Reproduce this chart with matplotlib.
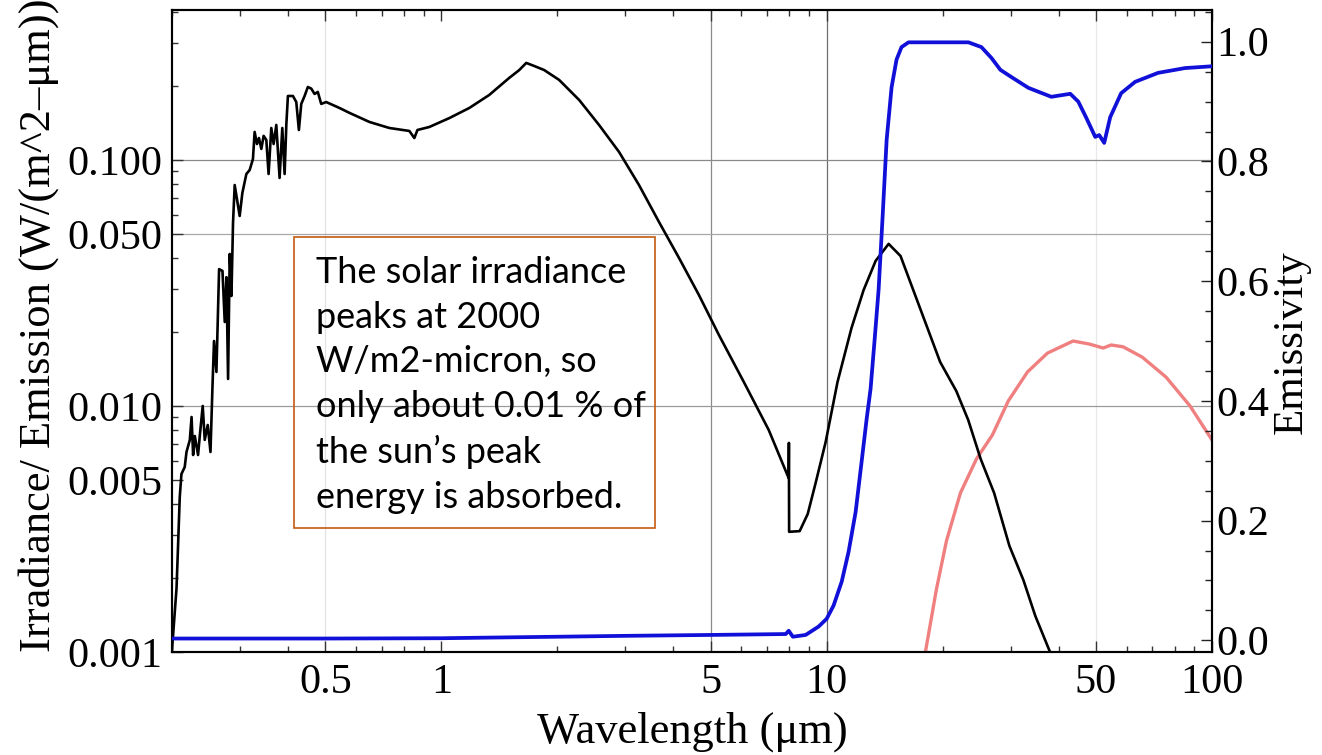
import matplotlib
matplotlib.use("Agg")
import matplotlib.pyplot as plt
from matplotlib.ticker import FixedLocator, FixedFormatter, LogLocator, NullFormatter, MultipleLocator
from matplotlib.patches import Rectangle

# ---------------- data ----------------
# Solar irradiance (scaled), wavelength in micrometres
solar_wl = [0.200, 0.2055, 0.207, 0.2095, 0.2116, 0.2158, 0.2181, 0.2225, 0.2248, 0.2269,
            0.2292, 0.2337, 0.2361, 0.2403, 0.2432, 0.2476, 0.2517, 0.2547, 0.2571, 0.2608,
            0.2650, 0.2704, 0.2741, 0.2769, 0.2796, 0.2824, 0.2853, 0.2880, 0.2909, 0.2997,
            0.3045, 0.3119, 0.3181, 0.3244, 0.3277, 0.3323, 0.3363, 0.3411, 0.3458, 0.3514,
            0.3562, 0.3620, 0.3671, 0.3730, 0.3804, 0.3866, 0.3920, 0.3960, 0.3998, 0.4120,
            0.4203, 0.4269, 0.4330, 0.4417, 0.4504, 0.4597, 0.4688, 0.4780, 0.4878, 0.5025,
            0.544, 0.578, 0.651, 0.733, 0.826, 0.851, 0.867, 0.931, 1.049, 1.182,
            1.331, 1.500, 1.593, 1.661, 1.742, 1.849, 2.022, 2.279, 2.566, 2.892,
            3.258, 3.671, 4.137, 4.660, 5.251, 6.095, 7.073, 7.97, 7.98, 7.99]
solar_val = [0.00102, 0.00182, 0.0025, 0.00427, 0.00529, 0.00565, 0.0065, 0.00728, 0.00902, 0.00632,
             0.00755, 0.00632, 0.00755, 0.0100, 0.00728, 0.00837, 0.0065, 0.01195, 0.01837, 0.01375,
             0.0360, 0.0354, 0.02195, 0.0334, 0.01288, 0.0415, 0.028, 0.0555, 0.0791, 0.0592,
             0.0734, 0.0877, 0.0910, 0.1009, 0.130, 0.1161, 0.1228, 0.1109, 0.1253, 0.1206,
             0.0877, 0.1349, 0.1161, 0.1388, 0.0845, 0.1349, 0.0877, 0.1388, 0.182, 0.182,
             0.172, 0.1324, 0.169, 0.182, 0.198, 0.195, 0.1855, 0.189, 0.169, 0.172,
             0.1627, 0.1553, 0.1427, 0.1349, 0.1312, 0.1228, 0.1324, 0.1362, 0.148, 0.1627,
             0.1837, 0.2155, 0.232, 0.248, 0.241, 0.232, 0.2115, 0.1753, 0.1388, 0.1078,
             0.0791, 0.056, 0.040, 0.02827, 0.01945, 0.01252, 0.00799, 0.00509, 0.00708, 0.00308]

# Thermal emission continuing the black curve
thermal_wl = [8.51, 8.93, 9.36, 9.94, 10.67, 11.6, 12.47, 13.4, 14.48, 15.55,
              17.5, 19.7, 21.7, 23.3, 25.1, 27.2, 29.8, 32.4, 34.8, 38.5]
thermal_val = [0.0031, 0.00364, 0.00486, 0.00714, 0.01252, 0.02075, 0.0296, 0.0389, 0.0456, 0.0407,
               0.0248, 0.0151, 0.0115, 0.00877, 0.00609, 0.00443, 0.0027, 0.00196, 0.0014, 0.00095]

# Emission (pink curve)
emis_wl = [18.0, 19.27, 20.46, 22.24, 24.47, 26.92, 29.6, 33.2, 37.4, 43.6,
           48.0, 52.2, 54.7, 58.8, 65.9, 76.0, 87.7, 100]
emis_val = [0.00098, 0.0018, 0.00283, 0.00443, 0.00609, 0.00762, 0.01048, 0.01375, 0.0164, 0.01837,
            0.01786, 0.0172, 0.0177, 0.0174, 0.0158, 0.0131, 0.0100, 0.00728]

# Emissivity (blue curve, right axis)
emissivity_wl = [0.2, 0.5, 1.0, 1.5, 2.0, 3.0, 5.0, 7.83, 7.97, 8.17,
                 8.82, 9.53, 10.0, 10.42, 10.94, 11.40, 11.89, 12.32, 12.70, 13.00,
                 13.31, 13.64, 13.97, 14.31, 14.74, 15.18, 15.64, 16.31, 19.51, 23.33,
                 25.21, 26.76, 28.24, 30.16, 33.37, 38.28, 42.87, 44.97, 47.17, 49.77,
                 50.97, 52.51, 54.43, 58.11, 63.17, 72.46, 85.13, 100]
emissivity_val = [0.003, 0.003, 0.0035, 0.005, 0.006, 0.0075, 0.009, 0.0105, 0.016, 0.006,
                  0.009, 0.023, 0.036, 0.058, 0.098, 0.148, 0.2145, 0.298, 0.37, 0.42,
                  0.50, 0.586, 0.708, 0.836, 0.924, 0.97, 0.991, 0.999, 0.999, 0.999,
                  0.991, 0.973, 0.953, 0.941, 0.923, 0.908, 0.913, 0.900, 0.873, 0.841,
                  0.844, 0.831, 0.874, 0.914, 0.933, 0.948, 0.956, 0.959]

x_ticks = [0.5, 1, 5, 10, 50, 100]
x_tick_labels = ["0.5", "1", "5", "10", "50", "100"]
y_ticks = [0.001, 0.005, 0.01, 0.05, 0.1]
y_tick_labels = ["0.001", "0.005", "0.010", "0.050", "0.100"]
y2_ticks = [0.0, 0.2, 0.4, 0.6, 0.8, 1.0]
y2_tick_labels = ["0.0", "0.2", "0.4", "0.6", "0.8", "1.0"]

note = ("The solar irradiance\npeaks at 2000\nW/m2-micron, so\n"
        "only about 0.01 % of\nthe sun\u2019s peak\nenergy is absorbed.")

# ---------------- figure ----------------
serif = "Liberation Serif"
fig = plt.figure(figsize=(13.22, 7.55), dpi=100)
ax = fig.add_axes([172 / 1322, 1 - 652 / 755, 1040 / 1322, 642 / 755])
ax2 = ax.twinx()

ax.set_xscale("log")
ax.set_yscale("log")
ax.set_xlim(0.2, 100)
ax.set_ylim(0.001, 0.407)
ax2.set_ylim(-0.0195, 1.053)

# grid lines
for v, c in [(0.5, "#e2e2e2"), (5, "#8a8a8a"), (10, "#6e6e6e"), (50, "#e8e8e8")]:
    ax.axvline(v, color=c, lw=0.9, zorder=0)
for v, c in [(0.1, "#8a8a8a"), (0.05, "#a8a8a8"), (0.01, "#9a9a9a")]:
    ax.axhline(v, color=c, lw=0.9, zorder=0)

# curves
black_wl = solar_wl + thermal_wl
black_val = solar_val + thermal_val
ax.plot(emis_wl, emis_val, color="#F08080", lw=2.4, zorder=2)
ax.plot(black_wl, black_val, color="black", lw=1.9, zorder=3, solid_joinstyle="round")
ax2.plot(emissivity_wl, emissivity_val, color="#1010D8", lw=2.7, zorder=4,
         solid_joinstyle="round")

# ticks
ax.xaxis.set_major_locator(FixedLocator(x_ticks))
ax.xaxis.set_major_formatter(FixedFormatter(x_tick_labels))
ax.xaxis.set_minor_locator(LogLocator(base=10, subs=[2, 3, 4, 6, 7, 8, 9]))
ax.xaxis.set_minor_formatter(NullFormatter())
ax.yaxis.set_major_locator(FixedLocator(y_ticks))
ax.yaxis.set_major_formatter(FixedFormatter(y_tick_labels))
ax.yaxis.set_minor_locator(LogLocator(base=10, subs=[2, 3, 4, 6, 7, 8, 9]))
ax.yaxis.set_minor_formatter(NullFormatter())
ax2.yaxis.set_major_locator(FixedLocator(y2_ticks))
ax2.yaxis.set_major_formatter(FixedFormatter(y2_tick_labels))
ax2.yaxis.set_minor_locator(MultipleLocator(0.05))

ax.tick_params(which="both", direction="in", top=True, right=False, width=1.0, color="#333333")
ax.tick_params(which="major", length=8)
ax.tick_params(which="minor", length=4)
ax.tick_params(axis="x", which="major", pad=8.5, labelsize=30.5)
ax.tick_params(axis="y", which="major", pad=7, labelsize=30.5)
ax2.tick_params(which="both", direction="in", width=1.0, color="#222222")
ax2.tick_params(which="major", length=8, pad=3, labelsize=30.5)
ax2.tick_params(which="minor", length=5)
for lab in ax.get_xticklabels() + ax.get_yticklabels() + ax2.get_yticklabels():
    lab.set_fontfamily(serif)

for a in (ax, ax2):
    for s in a.spines.values():
        s.set_linewidth(1.5)
        s.set_color("black")

# axis labels
ax.set_xlabel("Wavelength (\u03bcm)", fontsize=32, fontfamily=serif)
ax.xaxis.set_label_coords(0.5, -0.092)
ax.set_ylabel("Irradiance/ Emission (W/(m^2\u2013\u03bcm))", fontsize=32, fontfamily=serif)
ax.yaxis.set_label_coords(-0.1087, 0.509)
ax2.set_ylabel("Emissivity", fontsize=31, fontfamily=serif)
ax2.yaxis.set_label_coords(1.0575, 0.482)

# annotation box
fig.patches.append(Rectangle((294 / 1322, 1 - 528 / 755), 361 / 1322, 291 / 755,
                             transform=fig.transFigure, fill=False,
                             edgecolor="#C55A11", lw=1.2, zorder=5))
fig.text(316 / 1322, 1 - 256 / 755, note, fontsize=26, fontfamily="Lato",
         ha="left", va="top", linespacing=1.43, color="black", zorder=6)

fig.savefig("out.png", dpi=100)
